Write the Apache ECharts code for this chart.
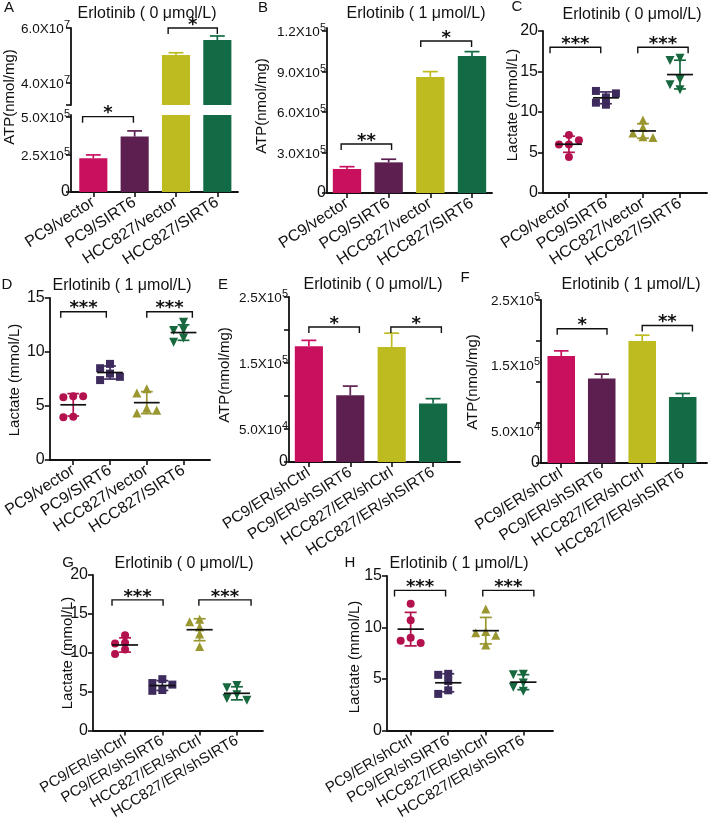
<!DOCTYPE html>
<html><head><meta charset="utf-8">
<script src="https://cdn.jsdelivr.net/npm/echarts@6/dist/echarts.min.js"></script>
<style>html,body{margin:0;padding:0;background:#fff}#c{width:708px;height:822px}</style>
</head><body><div id="c"></div>
<script>
// ---------------- DATA ----------------
const catsOE = ['PC9/vector', 'PC9/SIRT6', 'HCC827/vector', 'HCC827/SIRT6'];
const catsKD = ['PC9/ER/shCtrl', 'PC9/ER/shSIRT6', 'HCC827/ER/shCtrl', 'HCC827/ER/shSIRT6'];
const titleText0 = 'Erlotinib ( 0 μmol/L)';
const titleText1 = 'Erlotinib ( 1 μmol/L)';

// ATP bars: mean and SD
const atpA_mean = [2.25e5, 3.69e5, 5.02e7, 5.56e7];
const atpA_sd   = [0.22e5, 0.38e5, 0.08e7, 0.15e7];
const atpB_mean = [1.78e5, 2.27e5, 8.6e5, 10.15e5];
const atpB_sd   = [0.17e5, 0.23e5, 0.39e5, 0.32e5];
const atpE_mean = [1.753e5, 1.01e5, 1.742e5, 0.885e5];
const atpE_sd   = [0.09e5, 0.14e5, 0.21e5, 0.075e5];
const atpF_mean = [1.64e5, 1.296e5, 1.87e5, 1.014e5];
const atpF_sd   = [0.08e5, 0.067e5, 0.09e5, 0.052e5];

// Lactate replicates (mmol/L), 5 per group
const lacC = [[7.15, 6.0, 6.0, 6.5, 4.45], [11.8, 12.6, 12.3, 10.9, 11.15], [9.0, 8.1, 7.4, 6.95, 6.85], [16.65, 16.35, 14.0, 13.35, 12.75]];
const lacD = [[5.9, 5.8, 5.9, 4.0, 3.95], [8.9, 8.5, 8.0, 7.4, 7.7], [6.6, 6.2, 4.8, 4.35, 4.6], [12.75, 12.05, 12.0, 11.3, 10.9]];
const lacG = [[12.25, 11.3, 11.2, 10.4, 9.85], [6.6, 6.1, 5.9, 5.2, 5.1], [14.3, 14.0, 13.3, 12.4, 10.8], [5.8, 5.5, 4.6, 4.1, 3.9]];
const lacH = [[12.3, 10.7, 9.0, 8.7, 8.5], [5.5, 5.4, 4.8, 3.9, 3.55], [11.8, 9.6, 9.5, 9.25, 8.3], [5.45, 5.4, 4.6, 4.2, 3.8]];

// Significance brackets: [from group, to group, level, stars]
const sigA_lo = [[-0.26, 0.97, 5.02e5, '*']];
const sigA_up = [[1.81, 3.0, 6.0e7, '*']];
const sigB = [[-0.14, 1.07, 3.63e5, '**'], [1.77, 2.99, 11.26e5, '*']];
const sigC = [[-0.51, 0.86, 18.0, '***'], [1.86, 3.22, 18.0, '***']];
const sigD = [[-0.34, 0.9, 13.73, '***'], [2.0, 3.24, 13.73, '***']];
const sigE = [[0.0, 1.22, 2.045e5, '*'], [1.98, 3.2, 2.045e5, '*']];
const sigF = [[-0.1, 1.13, 2.06e5, '*'], [2.0, 3.24, 2.11e5, '**']];
const sigG = [[-0.35, 1.02, 16.8, '***'], [1.98, 3.38, 16.8, '***']];
const sigH = [[-0.43, 0.93, 13.6, '***'], [1.92, 3.28, 13.6, '***']];

// Axis tick values and labels
const tickA_up = [3.2e7, 4e7, 6e7];
const labValA_up = [4e7, 6e7];
const labA_up = ['4.0X10^7', '6.0X10^7'];
const tickA_lo = [0, 2.5e5, 5e5];
const labA_lo = ['0', '2.5X10^5', '5.0X10^5'];
const tickB = [0, 3e5, 6e5, 9e5, 12e5];
const labB = ['0', '3.0X10^5', '6.0X10^5', '9.0X10^5', '1.2X10^5'];
const tickE = [0, 5e4, 1e5, 1.5e5, 2e5, 2.5e5];
const tickF = [0, 62500, 125000, 187500, 250000];
const labValEF = [0, 5e4, 1.5e5, 2.5e5];
const labEF = ['0', '5.0X10^4', '1.5X10^5', '2.5X10^5'];
const tickLac20 = [0, 5, 10, 15, 20];
const tickLac15 = [0, 5, 10, 15];

// ---------------- STYLE / LAYOUT ----------------
const FONT = '"Liberation Sans", Arial, sans-serif';
const STAR_FONT = 'bold 18px "DejaVu Sans", sans-serif';
const INK = '#111111';
const barColors = ['#C8105F', '#5C1F50', '#BDBB1F', '#136B45'];
const dotColors = ['#B3124E', '#3D2B5E', '#9A9630', '#17683E'];
const dotSymbols = ['circle', 'rect', 'triangle', 'triangle'];
const dotRotate = [0, 0, 0, 180];
const dotSize = [8, 8, 9, 9];

const RICH = {
  m: {fontSize: 13.5, fontFamily: FONT, color: INK, padding: [3, 0, 0, 0]},
  s: {fontSize: 11, fontFamily: FONT, color: INK, verticalAlign: 'top'},
  n: {fontSize: 16, fontFamily: FONT, color: INK}
};
function fmtRich(t) {
  if (t.indexOf('^') >= 0) { const p = t.split('^'); return '{m|' + p[0] + '}{s|' + p[1] + '}'; }
  return '{n|' + t + '}';
}

const panels = [
  {kind: 'bar', grid: {left: 71, top: 28, width: 167, height: 77}, x: [-0.54, 3.5], y: [3.2e7, 6e7], cats: catsOE, showX: false,
   mean: atpA_mean, sd: atpA_sd, ticks: tickA_up, labVals: labValA_up, labs: labA_up, sig: sigA_up, onlyAboveMin: true},
  {kind: 'bar', grid: {left: 71, top: 115, width: 167, height: 77}, x: [-0.54, 3.5], y: [0, 5.13e5], cats: catsOE, showX: true,
   mean: atpA_mean, sd: atpA_sd, ticks: tickA_lo, labVals: tickA_lo, labs: labA_lo, sig: sigA_lo, rot: 33, fs: 16},
  {kind: 'bar', grid: {left: 327, top: 28, width: 165, height: 165}, x: [-0.48, 3.48], y: [0, 12.22e5], cats: catsOE, showX: true,
   mean: atpB_mean, sd: atpB_sd, ticks: tickB, labVals: tickB, labs: labB, sig: sigB, rot: 33, fs: 16},
  {kind: 'dot', grid: {left: 543, top: 31, width: 164, height: 162}, x: [-0.70, 3.73], y: [0, 20], cats: catsOE, showX: true,
   reps: lacC, ticks: tickLac20, labVals: tickLac20, labs: tickLac20.map(String), sig: sigC, rot: 33, fs: 16},
  {kind: 'dot', grid: {left: 48, top: 298, width: 162, height: 162}, x: [-0.64, 3.72], y: [0, 15], cats: catsOE, showX: true,
   reps: lacD, ticks: tickLac15, labVals: tickLac15, labs: tickLac15.map(String), sig: sigD, rot: 33, fs: 16},
  {kind: 'bar', grid: {left: 289, top: 297, width: 171, height: 165}, x: [-0.48, 3.65], y: [0, 2.5e5], cats: catsKD, showX: true,
   mean: atpE_mean, sd: atpE_sd, ticks: tickE, labVals: labValEF, labs: labEF, sig: sigE, rot: 33, fs: 15.5},
  {kind: 'bar', grid: {left: 541, top: 300, width: 166, height: 163}, x: [-0.5, 3.6], y: [0, 2.5e5], cats: catsKD, showX: true,
   mean: atpF_mean, sd: atpF_sd, ticks: tickF, labVals: labValEF, labs: labEF, sig: sigF, rot: 33, fs: 15.5},
  {kind: 'dot', grid: {left: 93, top: 575, width: 170, height: 161}, x: [-0.86, 3.70], y: [0, 20], cats: catsKD, showX: true,
   reps: lacG, ticks: tickLac20, labVals: tickLac20, labs: tickLac20.map(String), sig: sigG, rot: 31, fs: 15},
  {kind: 'dot', grid: {left: 387, top: 576, width: 166, height: 160}, x: [-0.63, 3.79], y: [0, 15], cats: catsKD, showX: true,
   reps: lacH, ticks: tickLac15, labVals: tickLac15, labs: tickLac15.map(String), sig: sigH, rot: 31, fs: 15}
];

const letters = [['A', 9, 8], ['B', 263, 8], ['C', 517, 7], ['D', 7, 285], ['E', 223, 285], ['F', 465, 278], ['G', 68, 563], ['H', 350, 563]];
const titles = [[titleText0, 147, 14], [titleText1, 416, 14], [titleText0, 632, 15], [titleText1, 122, 286], [titleText0, 373, 285], [titleText1, 631, 285], [titleText0, 184, 564], [titleText1, 459, 564]];
const yNames = [['ATP(nmol/mg)', 10, 97], ['ATP(nmol/mg)', 262, 106], ['Lactate (mmol/L)', 513, 105], ['Lactate (mmol/L)', 15, 380], ['ATP(nmol/mg)', 225, 375], ['ATP(nmol/mg)', 473, 382], ['Lactate (mmol/L)', 68, 653], ['Lactate (mmol/L)', 355, 657]];

// ---------------- HELPERS ----------------
function meanOf(a) { return a.reduce((s, v) => s + v, 0) / a.length; }
function sdOf(a) { const m = meanOf(a); return Math.sqrt(a.reduce((s, v) => s + (v - m) * (v - m), 0) / (a.length - 1)); }

// simple beeswarm: spread points that would overlap vertically
function swarm(vals, pxPerY, pxPerX, symPx, slotPx) {
  const placed = [];
  return vals.map(v => {
    const slots = [0, -1, 1, -2, 2, -3, 3];
    let k = 0;
    for (const s of slots) {
      if (placed.every(p => p.k !== s || Math.abs(p.v - v) * pxPerY >= symPx)) { k = s; break; }
    }
    placed.push({k, v});
    return k * slotPx / pxPerX;
  });
}

const grids = [], xAxes = [], yAxes = [], series = [];

panels.forEach((P, g) => {
  grids.push(Object.assign({containLabel: false}, P.grid));
  const pxPerX = P.grid.width / (P.x[1] - P.x[0]);
  const pxPerY = P.grid.height / (P.y[1] - P.y[0]);
  xAxes.push({
    gridIndex: g, type: 'value', min: P.x[0], max: P.x[1], show: P.showX,
    axisLine: {show: true, onZero: false, lineStyle: {color: INK, width: 1.8}},
    axisTick: {show: true, length: 5, customValues: [0, 1, 2, 3], lineStyle: {color: INK, width: 1.6}},
    axisLabel: {show: true, customValues: [0, 1, 2, 3], rotate: P.rot || 30, margin: 9, fontSize: P.fs || 16,
      fontFamily: FONT, color: INK, formatter: v => P.cats[Math.round(v)] || ''},
    splitLine: {show: false}
  });
  yAxes.push({
    gridIndex: g, type: 'value', min: P.y[0], max: P.y[1],
    axisLine: {show: true, onZero: false, lineStyle: {color: INK, width: 1.8}},
    axisTick: {show: true, length: 5, customValues: P.ticks, lineStyle: {color: INK, width: 1.6}},
    axisLabel: {show: true, customValues: P.labVals, margin: P.kind === 'dot' ? 5 : 1, rich: RICH,
      formatter: v => {
        const i = P.labVals.findIndex(x => Math.abs(x - v) <= 1e-6 * Math.max(1, Math.abs(x)));
        return i >= 0 ? fmtRich(String(P.labs[i])) : '';
      }},
    splitLine: {show: false}
  });

  if (P.kind === 'bar') {
    const base = Math.max(0, P.y[0]);
    const idx = P.mean.map((v, i) => i).filter(i => !P.onlyAboveMin || P.mean[i] > P.y[0]);
    series.push({
      type: 'custom', xAxisIndex: g, yAxisIndex: g, clip: true, z: 2,
      data: idx.map(i => [i, P.mean[i], P.sd[i]]),
      renderItem: (params, api) => {
        const i = api.value(0), v = api.value(1), e = api.value(2);
        const p0 = api.coord([i - 0.34, base]);
        const p1 = api.coord([i + 0.34, v]);
        const t = api.coord([i, v + e]);
        const cl = api.coord([i - 0.18, v + e]), cr = api.coord([i + 0.18, v + e]);
        const col = barColors[i];
        return {type: 'group', children: [
          {type: 'rect', shape: {x: p0[0], y: p1[1], width: p1[0] - p0[0], height: p0[1] - p1[1]}, style: {fill: col}},
          {type: 'line', shape: {x1: t[0], y1: p1[1], x2: t[0], y2: t[1]}, style: {stroke: col, lineWidth: 1.7}},
          {type: 'line', shape: {x1: cl[0], y1: t[1], x2: cr[0], y2: t[1]}, style: {stroke: col, lineWidth: 1.7}}
        ]};
      }
    });
  } else {
    P.reps.forEach((vals, i) => {
      const offs = swarm(vals, pxPerY, pxPerX, 7, 10);
      series.push({
        type: 'scatter', xAxisIndex: g, yAxisIndex: g, z: 3,
        symbol: dotSymbols[i], symbolRotate: dotRotate[i], symbolSize: dotSize[i],
        itemStyle: {color: dotColors[i], opacity: 1},
        data: vals.map((v, j) => [i + offs[j], v])
      });
    });
    series.push({
      type: 'custom', xAxisIndex: g, yAxisIndex: g, clip: false, z: 4,
      data: P.reps.map((vals, i) => [i, meanOf(vals), sdOf(vals)]),
      renderItem: (params, api) => {
        const i = api.value(0), m = api.value(1), s = api.value(2);
        const a = api.coord([i - 0.35, m]), b = api.coord([i + 0.35, m]);
        const top = api.coord([i, m + s]), bot = api.coord([i, m - s]);
        const tl = api.coord([i - 0.16, m + s]), tr = api.coord([i + 0.16, m + s]);
        const col = dotColors[i];
        return {type: 'group', children: [
          {type: 'line', shape: {x1: top[0], y1: top[1], x2: bot[0], y2: bot[1]}, style: {stroke: col, lineWidth: 1.7}},
          {type: 'line', shape: {x1: tl[0], y1: top[1], x2: tr[0], y2: top[1]}, style: {stroke: col, lineWidth: 1.7}},
          {type: 'line', shape: {x1: tl[0], y1: bot[1], x2: tr[0], y2: bot[1]}, style: {stroke: col, lineWidth: 1.7}},
          {type: 'line', shape: {x1: a[0], y1: a[1], x2: b[0], y2: b[1]}, style: {stroke: INK, lineWidth: 1.7}}
        ]};
      }
    });
  }

  // significance brackets
  series.push({
    type: 'custom', xAxisIndex: g, yAxisIndex: g, clip: false, z: 5,
    data: P.sig.map(s => [s[0], s[1], s[2]]),
    renderItem: (params, api) => {
      const p1 = api.coord([api.value(0), api.value(2)]);
      const p2 = api.coord([api.value(1), api.value(2)]);
      const star = P.sig[params.dataIndex][3];
      return {type: 'group', children: [
        {type: 'polyline', shape: {points: [[p1[0], p1[1] + 6], [p1[0], p1[1]], [p2[0], p2[1]], [p2[0], p2[1] + 6]]},
         style: {stroke: INK, fill: null, lineWidth: 1.4}},
        {type: 'text', x: (p1[0] + p2[0]) / 2, y: p1[1] - 3,
         style: {text: star, font: STAR_FONT, fill: INK, textAlign: 'center', textVerticalAlign: 'middle'}}
      ]};
    }
  });
});

const graphic = [];
letters.forEach(l => graphic.push({type: 'text', x: l[1], y: l[2], style: {text: l[0], font: '15px ' + FONT, fill: INK, textAlign: 'center', textVerticalAlign: 'middle'}}));
titles.forEach(t => graphic.push({type: 'text', x: t[1], y: t[2], style: {text: t[0], font: '16px ' + FONT, fill: INK, textAlign: 'center', textVerticalAlign: 'middle'}}));
yNames.forEach(t => graphic.push({type: 'text', x: t[1], y: t[2], rotation: Math.PI / 2, style: {text: t[0], font: '15px ' + FONT, fill: INK, textAlign: 'center', textVerticalAlign: 'middle'}}));

const chart = echarts.init(document.getElementById('c'), null, {renderer: 'canvas'});
chart.setOption({
  animation: false,
  backgroundColor: '#ffffff',
  grid: grids, xAxis: xAxes, yAxis: yAxes, series: series, graphic: graphic
});
</script>
</body></html>
